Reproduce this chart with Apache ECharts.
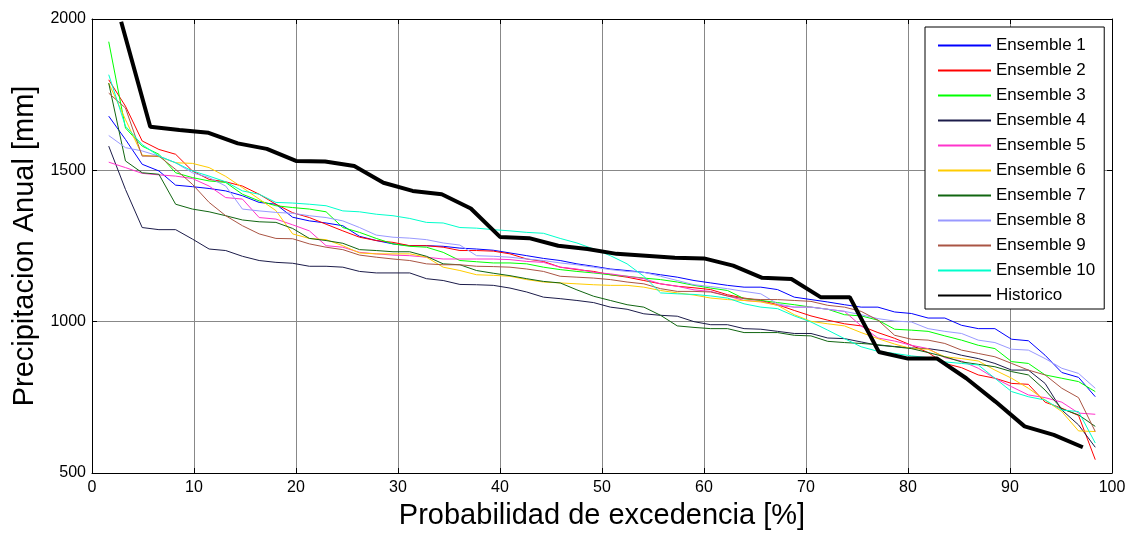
<!DOCTYPE html>
<html>
<head>
<meta charset="utf-8">
<script src="https://cdn.jsdelivr.net/npm/echarts@6/dist/echarts.min.js"></script>
<style>
  html, body { margin: 0; padding: 0; background: #fff; }
  #chart { width: 1130px; height: 535px; }
</style>
</head>
<body>
<div id="chart"></div>
<script>
// Exceedance probability [%] for the 60 sorted ensemble years
const probEnsemble = [1.64, 3.28, 4.92, 6.56, 8.20, 9.84, 11.48, 13.11, 14.75, 16.39,
  18.03, 19.67, 21.31, 22.95, 24.59, 26.23, 27.87, 29.51, 31.15, 32.79,
  34.43, 36.07, 37.70, 39.34, 40.98, 42.62, 44.26, 45.90, 47.54, 49.18,
  50.82, 52.46, 54.10, 55.74, 57.38, 59.02, 60.66, 62.30, 63.93, 65.57,
  67.21, 68.85, 70.49, 72.13, 73.77, 75.41, 77.05, 78.69, 80.33, 81.97,
  83.61, 85.25, 86.89, 88.52, 90.16, 91.80, 93.44, 95.08, 96.72, 98.36];

// Exceedance probability [%] for the 34 observed years
const probHistorico = [2.86, 5.71, 8.57, 11.43, 14.29, 17.14, 20.00, 22.86, 25.71, 28.57,
  31.43, 34.29, 37.14, 40.00, 42.86, 45.71, 48.57, 51.43, 54.29, 57.14,
  60.00, 62.86, 65.71, 68.57, 71.43, 74.29, 77.14, 80.00, 82.86, 85.71,
  88.57, 91.43, 94.29, 97.14];

// Annual precipitation [mm], sorted from wettest to driest
const ensemble1 = [1679, 1602, 1520, 1498, 1451, 1446, 1440, 1432, 1416, 1394, 1388, 1345, 1333, 1326, 1317, 1282, 1268, 1257, 1251, 1251,
  1249, 1243, 1240, 1236, 1227, 1218, 1209, 1202, 1191, 1183, 1174, 1169, 1163, 1155, 1147, 1136, 1128, 1120, 1114, 1114,
  1106, 1081, 1073, 1065, 1056, 1048, 1048, 1032, 1027, 1012, 1012, 988, 977, 977, 942, 937, 889, 832, 816, 752];
const ensemble2 = [1799, 1712, 1597, 1569, 1553, 1498, 1470, 1462, 1448, 1421, 1388, 1360, 1344, 1322, 1300, 1279, 1268, 1262, 1251, 1251,
  1246, 1235, 1235, 1233, 1224, 1207, 1199, 1180, 1172, 1166, 1155, 1147, 1136, 1125, 1117, 1112, 1106, 1089, 1078, 1070,
  1056, 1037, 1019, 1005, 993, 986, 964, 945, 922, 898, 862, 848, 824, 813, 796, 793, 734, 714, 690, 544];
const ensemble3 = [1925, 1640, 1580, 1553, 1492, 1476, 1465, 1460, 1421, 1399, 1383, 1377, 1372, 1363, 1311, 1295, 1275, 1257, 1249, 1246,
  1229, 1202, 1198, 1194, 1194, 1191, 1180, 1172, 1166, 1161, 1155, 1150, 1144, 1139, 1131, 1120, 1111, 1103, 1076, 1070,
  1063, 1056, 1048, 1041, 1023, 1019, 1005, 975, 972, 968, 953, 939, 922, 911, 868, 862, 824, 813, 802, 769];
const ensemble4 = [1580, 1437, 1311, 1304, 1304, 1273, 1240, 1235, 1216, 1202, 1196, 1193, 1183, 1183, 1180, 1166, 1161, 1161, 1161, 1142,
  1136, 1123, 1122, 1120, 1111, 1098, 1081, 1076, 1070, 1063, 1048, 1041, 1026, 1021, 1018, 1000, 990, 990, 977, 975,
  968, 961, 961, 946, 944, 933, 922, 918, 913, 911, 903, 889, 878, 862, 840, 840, 796, 708, 659, 585];
const ensemble5 = [1527, 1509, 1490, 1485, 1481, 1473, 1448, 1410, 1405, 1344, 1339, 1320, 1300, 1251, 1246, 1229, 1224, 1220, 1218, 1213,
  1207, 1207, 1207, 1207, 1205, 1199, 1196, 1180, 1174, 1163, 1158, 1150, 1142, 1125, 1117, 1105, 1100, 1085, 1070, 1067,
  1054, 1048, 1048, 1041, 1034, 986, 946, 936, 922, 911, 881, 870, 846, 813, 785, 758, 749, 734, 698, 694];
const ensemble6 = [1788, 1668, 1550, 1545, 1525, 1523, 1509, 1480, 1443, 1405, 1367, 1290, 1275, 1271, 1251, 1227, 1224, 1224, 1224, 1213,
  1180, 1169, 1155, 1153, 1150, 1139, 1131, 1128, 1125, 1122, 1120, 1120, 1114, 1103, 1095, 1088, 1078, 1073, 1070, 1065,
  1054, 1023, 1001, 993, 986, 964, 944, 926, 911, 909, 884, 878, 870, 840, 813, 780, 741, 703, 639, 637];
const ensemble7 = [1788, 1531, 1492, 1487, 1388, 1372, 1363, 1350, 1336, 1330, 1328, 1308, 1275, 1268, 1259, 1238, 1235, 1231, 1231, 1216,
  1191, 1188, 1169, 1160, 1152, 1142, 1133, 1128, 1105, 1084, 1070, 1056, 1048, 1021, 986, 981, 977, 977, 964, 964,
  964, 955, 953, 935, 931, 928, 924, 917, 911, 898, 884, 867, 859, 851, 835, 824, 774, 712, 692, 654];
const ensemble8 = [1615, 1575, 1564, 1547, 1525, 1492, 1476, 1448, 1372, 1366, 1361, 1358, 1350, 1344, 1333, 1311, 1286, 1279, 1276, 1271,
  1260, 1253, 1218, 1216, 1213, 1207, 1202, 1194, 1188, 1180, 1172, 1166, 1163, 1150, 1136, 1122, 1116, 1109, 1100, 1092,
  1059, 1048, 1048, 1041, 1034, 1023, 1010, 1002, 999, 977, 968, 961, 939, 931, 909, 906, 878, 846, 829, 780];
const ensemble9 = [1755, 1706, 1547, 1547, 1503, 1454, 1394, 1350, 1317, 1290, 1275, 1274, 1257, 1246, 1238, 1220, 1213, 1207, 1202, 1191,
  1188, 1188, 1183, 1182, 1180, 1174, 1166, 1150, 1147, 1144, 1139, 1131, 1125, 1109, 1100, 1100, 1098, 1085, 1076, 1073,
  1073, 1070, 1067, 1054, 1048, 1034, 1005, 955, 942, 939, 928, 906, 895, 884, 862, 840, 824, 780, 749, 637];
const ensemble10 = [1816, 1646, 1585, 1547, 1525, 1498, 1481, 1462, 1432, 1421, 1394, 1392, 1388, 1383, 1366, 1363, 1355, 1350, 1341, 1328,
  1326, 1311, 1309, 1304, 1300, 1295, 1292, 1275, 1260, 1240, 1218, 1191, 1150, 1095, 1092, 1090, 1085, 1078, 1059, 1048,
  1043, 1019, 999, 972, 944, 917, 902, 895, 887, 881, 867, 862, 857, 813, 769, 752, 741, 708, 703, 599];
const historico = [1991, 1644, 1633, 1624, 1589, 1571, 1531, 1529, 1514, 1459, 1432, 1421, 1374, 1280, 1276, 1251, 1240, 1224, 1218, 1211,
  1209, 1185, 1145, 1141, 1081, 1081, 900, 878, 878, 813, 736, 654, 626, 585];

const seriesNames = ['Ensemble 1', 'Ensemble 2', 'Ensemble 3', 'Ensemble 4', 'Ensemble 5',
  'Ensemble 6', 'Ensemble 7', 'Ensemble 8', 'Ensemble 9', 'Ensemble 10', 'Historico'];
const xTicks = [0, 10, 20, 30, 40, 50, 60, 70, 80, 90, 100];
const yTicks = [500, 1000, 1500, 2000];

const ensembleValues = [ensemble1, ensemble2, ensemble3, ensemble4, ensemble5,
  ensemble6, ensemble7, ensemble8, ensemble9, ensemble10];
const colors = ['#0000ff', '#ff0000', '#00ff00', '#1c1c4a', '#ff33cc',
  '#ffcc00', '#116611', '#9999ff', '#aa5544', '#00ffcc'];

const FONT = '"Liberation Sans", Arial, sans-serif';

const pairs = (xs, ys) => ys.map((v, i) => [xs[i], v]);

const series = ensembleValues.map((vals, k) => ({
  name: seriesNames[k],
  type: 'line',
  data: pairs(probEnsemble, vals),
  symbol: 'none',
  lineStyle: { color: colors[k], width: 1 },
  itemStyle: { color: colors[k] },
  z: 2
}));
series.push({
  name: seriesNames[10],
  type: 'line',
  data: pairs(probHistorico, historico),
  symbol: 'none',
  lineStyle: { color: '#000', width: 4 },
  itemStyle: { color: '#000' },
  z: 3
});

const chart = echarts.init(document.getElementById('chart'), null, { renderer: 'canvas' });

const tickStyle = { show: true, inside: true, length: 5, lineStyle: { color: '#000', width: 1 } };

chart.setOption({
  animation: false,
  backgroundColor: '#fff',
  textStyle: { fontFamily: FONT, color: '#000' },
  grid: { left: 92, top: 19, width: 1020, height: 457, containLabel: false },
  legend: {
    data: seriesNames,
    orient: 'vertical',
    left: 925,
    top: 27,
    itemWidth: 53,
    itemHeight: 14,
    itemGap: 8,
    padding: [10, 9, 5, 12],
    backgroundColor: '#fff',
    borderColor: '#000',
    borderWidth: 1,
    itemStyle: { opacity: 0 },
    textStyle: { fontFamily: FONT, fontSize: 17, color: '#000' }
  },
  xAxis: [{
    type: 'value',
    min: 0, max: 100, interval: 10,
    name: 'Probabilidad de excedencia [%]',
    nameLocation: 'middle',
    nameGap: 28,
    nameTextStyle: { fontFamily: FONT, fontSize: 29, color: '#000' },
    axisLine: { show: true, onZero: false, lineStyle: { color: '#000', width: 1 } },
    axisTick: tickStyle,
    axisLabel: {
      fontFamily: FONT, fontSize: 16, color: '#000', margin: 7,
      formatter: v => (xTicks.includes(v) ? String(v) : '')
    },
    splitLine: { show: true, lineStyle: { color: '#888888', width: 1 } }
  }, {
    type: 'value',
    position: 'top',
    min: 0, max: 100, interval: 10,
    axisLine: { show: true, onZero: false, lineStyle: { color: '#000', width: 1 } },
    axisTick: tickStyle,
    axisLabel: { show: false },
    splitLine: { show: false }
  }],
  yAxis: [{
    type: 'value',
    min: 500, max: 2000, interval: 500,
    name: 'Precipitacion Anual [mm]',
    nameLocation: 'middle',
    nameGap: 51,
    nameTextStyle: { fontFamily: FONT, fontSize: 29, color: '#000' },
    axisLine: { show: true, onZero: false, lineStyle: { color: '#000', width: 1 } },
    axisTick: tickStyle,
    axisLabel: {
      fontFamily: FONT, fontSize: 16, color: '#000', margin: 6,
      formatter: v => (yTicks.includes(v) ? String(v) : '')
    },
    splitLine: { show: true, lineStyle: { color: '#888888', width: 1 } }
  }, {
    type: 'value',
    position: 'right',
    min: 500, max: 2000, interval: 500,
    axisLine: { show: true, onZero: false, lineStyle: { color: '#000', width: 1 } },
    axisTick: tickStyle,
    axisLabel: { show: false },
    splitLine: { show: false }
  }],
  series: series
});
</script>
</body>
</html>
